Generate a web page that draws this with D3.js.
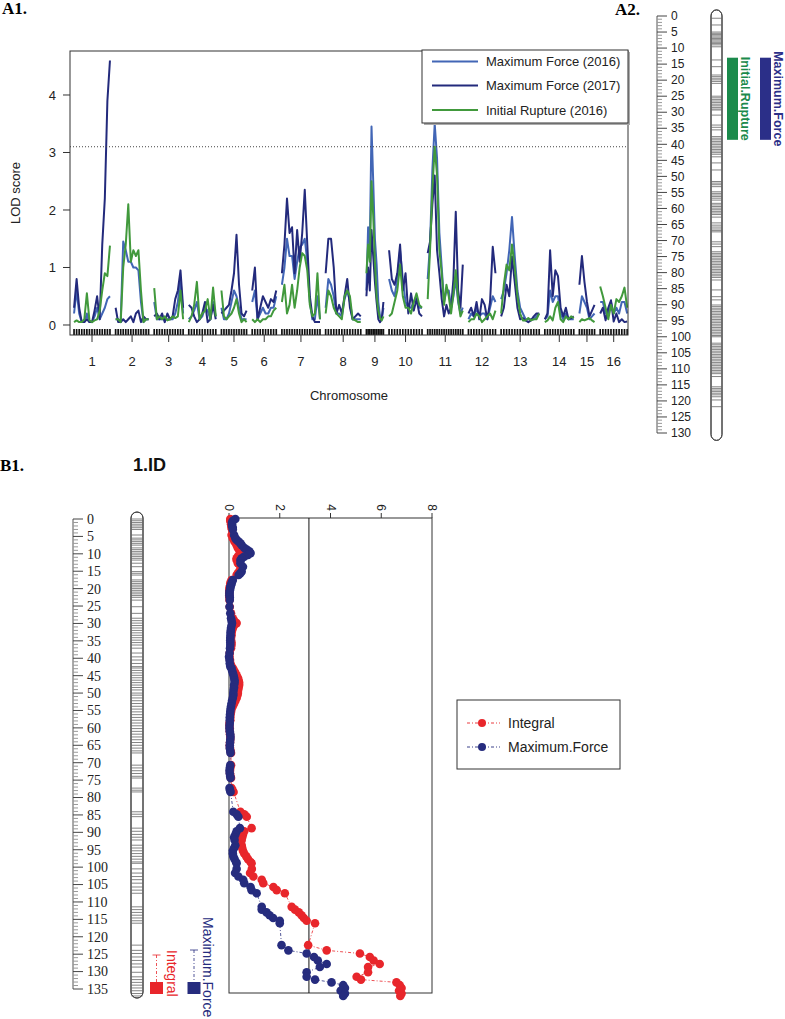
<!DOCTYPE html>
<html><head><meta charset="utf-8">
<script src="https://cdn.jsdelivr.net/npm/d3@7"></script>
<style>body{margin:0;background:#fff}svg{display:block}</style>
</head><body>
<svg id="c" width="785" height="1019"></svg>
<script>
// ---------------- DATA ----------------
const chromosomes = ["1","2","3","4","5","6","7","8","9","10","11","12","13","14","15","16"];
const chrLengths = [133,122,107,100,93,89,141,130,63,122,130,100,141,107,56,100];
// LOD profiles, evenly spaced along each chromosome (one inner array per chromosome)
const lodMaxForce2016 = [
 [0.2,0.6,0.2,0.05,0.05,0.2,0.05,0.05,0.15,0.3,0.1,0.2,0.3,0.45,0.5],
 [0.1,0.1,0.05,1.45,1.3,1.1,1.1,1.0,1.0,0.95,0.4,0.05,0.1,0.1],
 [0.4,0.1,0.1,0.1,0.1,0.1,0.1,0.1,0.2,0.4,0.8,0.2],
 [0.1,0.15,0.25,0.4,0.1,0.15,0.3,0.25,0.1,0.4,0.15],
 [0.3,0.1,0.1,0.2,0.4,0.6,0.5,0.3,0.1,0.1,0.1],
 [0.4,0.6,0.1,0.2,0.3,0.2,0.2,0.3,0.3,0.5],
 [0.7,1.0,1.5,1.2,1.2,0.8,1.1,1.35,1.4,1.5,1.1,0.4,0.1,0.1,0.5,0.1],
 [0.3,0.8,0.7,0.5,0.2,0.2,0.15,0.45,0.6,0.4,0.1,0.1,0.1,0.1],
 [0.6,1.7,1.4,3.45,2.5,1.5,1.05,0.4,0.15,0.1,0.3],
 [0.8,0.6,0.5,0.8,1.3,0.8,0.4,0.3,0.3,0.4,0.5,0.3,0.3],
 [0.8,1.4,2.7,3.5,2.9,1.6,1.0,0.4,0.6,0.6,0.3,0.5,0.8,0.4,0.2,0.3],
 [0.1,0.2,0.15,0.3,0.15,0.2,0.2,0.1,0.3,0.5,0.4],
 [0.45,0.6,0.9,1.3,1.88,1.2,0.6,0.3,0.2,0.1,0.1,0.1,0.1,0.15,0.2],
 [0.1,0.15,0.6,0.4,0.5,0.5,0.2,0.1,0.2,0.1,0.1,0.1],
 [0.2,0.5,0.4,0.3,0.1,0.15,0.2],
 [0.4,0.4,0.2,0.2,0.4,0.2,0.3,0.2,0.4,0.4,0.2]
];
const lodMaxForce2017 = [
 [0.3,0.8,0.3,0.05,0.05,0.1,0.05,0.05,0.25,0.5,0.1,1.4,2.2,3.9,4.6],
 [0.3,0.05,0.05,0.1,0.05,0.1,0.15,0.05,0.2,0.25,0.05,0.15,0.1,0.1],
 [0.15,0.2,0.1,0.2,0.05,0.2,0.1,0.15,0.45,0.6,0.95,0.3],
 [0.35,0.3,0.15,0.05,0.1,0.2,0.4,0.05,0.1,0.35,0.1],
 [0.2,0.25,0.3,0.35,0.6,0.9,1.57,0.7,0.2,0.15,0.25],
 [0.6,1.0,0.1,0.3,0.5,0.4,0.3,0.45,0.4,0.6],
 [0.9,1.4,2.2,1.6,1.7,0.9,1.65,1.1,1.6,2.35,1.4,0.5,0.15,0.05,0.05,0.05],
 [0.9,1.5,1.5,1.0,0.2,0.35,0.2,0.5,0.8,0.3,0.1,0.15,0.2,0.15],
 [0.5,1.0,0.6,1.65,1.2,0.75,0.4,0.1,0.05,0.1,0.4],
 [1.3,0.8,0.7,0.9,1.4,0.6,0.9,0.2,0.55,0.25,0.45,0.2,0.15],
 [1.25,1.45,2.1,2.6,1.3,0.9,0.45,0.15,0.35,0.2,0.3,0.8,1.97,0.6,0.3,1.05],
 [0.2,0.3,0.15,0.4,0.1,0.45,0.35,0.1,0.4,1.36,0.9],
 [0.15,0.3,0.7,0.5,1.19,0.75,0.3,0.1,0.12,0.08,0.05,0.08,0.15,0.2,0.2],
 [0.1,0.2,1.3,0.5,0.95,0.85,0.3,0.15,0.3,0.1,0.12,0.15],
 [0.7,1.2,0.75,0.4,0.15,0.25,0.35],
 [0.2,0.3,0.08,0.3,0.43,0.06,0.2,0.05,0.1,0.05,0.06]
];
const lodInitialRupture2016 = [
 [0.05,0.08,0.05,0.05,0.1,0.55,0.08,0.05,0.08,0.1,0.25,0.6,0.9,0.85,1.38],
 [0.1,0.1,0.05,1.0,1.4,2.1,1.1,1.3,1.2,1.3,0.6,0.05,0.1,0.1],
 [0.64,0.1,0.15,0.1,0.15,0.08,0.1,0.15,0.12,0.15,0.6,0.1],
 [0.05,0.15,0.35,0.75,0.1,0.2,0.25,0.45,0.1,0.65,0.15],
 [0.6,0.15,0.1,0.15,0.2,0.3,0.45,0.2,0.05,0.1,0.05],
 [0.1,0.05,0.1,0.05,0.1,0.1,0.15,0.15,0.25,0.3],
 [0.4,0.7,0.2,0.35,0.7,0.3,0.6,1.0,1.25,1.2,0.95,0.35,0.15,0.2,0.9,0.1],
 [0.2,0.6,0.5,0.3,0.2,0.15,0.1,0.5,0.6,0.5,0.1,0.08,0.05,0.05],
 [0.9,1.4,1.1,2.5,1.9,1.1,0.5,0.25,0.12,0.08,0.15],
 [0.15,0.2,0.4,0.6,1.05,0.5,0.3,0.3,0.2,0.4,0.55,0.35,0.3],
 [0.45,1.3,2.35,3.1,2.6,1.3,0.9,0.35,0.7,0.5,0.2,0.55,0.95,0.45,0.15,0.25],
 [0.05,0.1,0.1,0.2,0.15,0.05,0.1,0.15,0.2,0.1,0.25],
 [0.2,0.7,1.05,0.95,1.4,1.0,0.5,0.2,0.08,0.08,0.12,0.08,0.1,0.1,0.2],
 [0.05,0.08,0.15,0.08,0.3,0.4,0.1,0.05,0.15,0.1,0.15,0.12],
 [0.05,0.1,0.08,0.1,0.12,0.08,0.05],
 [0.67,0.5,0.3,0.1,0.35,0.2,0.45,0.4,0.5,0.65,0.3]
];
const seriesNamesA1 = ["Maximum Force (2016)","Maximum Force (2017)","Initial Rupture (2016)"];
const yTicksA1 = [0,1,2,3,4];
const lodThresholdA1 = 3.1;

// A2: chromosome map with QTL intervals
const a2RulerLabels = [0,5,10,15,20,25,30,35,40,45,50,55,60,65,70,75,80,85,90,95,100,105,110,115,120,125,130];
const a2Markers = [0.7,2.8,5.0,5.4,5.8,6.2,6.6,7.0,7.4,7.8,8.2,8.6,9.0,9.6,13.7,15.8,18.4,18.9,19.4,19.9,20.4,21.0,
 25.0,25.5,26.0,26.5,27.0,27.5,28.0,28.5,29.0,29.3,30.9,34.0,34.7,35.5,37.6,38.1,38.6,39.1,39.6,40.1,40.6,41.1,41.6,
 42.1,42.6,43.1,43.9,45.8,48.0,51.6,52.1,52.6,53.2,54.8,55.3,55.8,56.3,56.8,57.4,58.4,58.9,59.4,59.9,60.4,60.9,61.4,
 61.9,62.7,64.5,65.2,65.8,66.4,66.9,67.3,70.4,71.1,71.9,73.5,74.0,74.5,75.0,75.5,76.0,76.5,77.0,77.5,78.0,78.5,79.0,
 79.5,80.0,80.5,81.0,81.5,82.3,85.4,87.5,88.5,90.1,90.6,91.1,91.6,92.1,92.6,93.1,93.6,94.1,94.6,95.1,95.6,96.1,96.6,
 97.1,97.6,98.1,98.6,99.1,99.6,100.0,102.0,102.5,103.0,103.5,104.0,104.5,105.0,105.5,106.0,106.5,107.0,107.5,108.0,
 108.5,109.0,109.5,110.0,110.5,111.0,111.5,112.4,115.6,116.1,116.6,117.1,117.6,118.1,118.7,119.7,121.8];
const qtlTraits = ["Initial.Rupture","Maximum.Force"];
const qtlStart = [13,13];
const qtlEnd = [38.6,38.6];

// B1: chromosome 1.ID
const b1Title = "1.ID";
const b1RulerLabels = [0,5,10,15,20,25,30,35,40,45,50,55,60,65,70,75,80,85,90,95,100,105,110,115,120,125,130,135];
const b1XTicks = [0,2,4,6,8];
const b1Threshold = 3.15;
const b1SeriesNames = ["Integral","Maximum.Force"];
const b1Positions = [0,0.5,1,1.5,2,2.5,3,4.6,5.5,6,6.5,7,7.5,8.3,8.8,9.3,9.8,10.3,10.8,11.3,11.8,12.7,13.7,15.1,15.6,16.1,
 17.5,18,18.5,19,19.5,20,20.5,21,21.5,22,22.5,23.3,25.2,27.1,28.5,29.2,29.9,30.6,31.3,32,32.7,33.4,34.1,34.8,35.5,36.2,37.1,
 38.5,39.6,40.5,41.5,42.4,42.8,43.5,44.2,44.9,45.6,46.3,47,47.7,48.4,49.1,50,50.6,51.4,52.2,53,53.8,54.6,55.4,56.2,57,57.8,
 58.6,59.4,60.2,61,61.8,62.6,63.4,64.2,65,65.8,66.6,67.2,70.7,71.5,72.3,73.1,73.9,74.4,77.3,77.9,78.4,84.1,84.8,85.5,
 88.8,89.7,90.6,91.4,92.2,93.7,94.5,95.3,96.1,96.9,97.7,98.5,98.9,100.5,101.7,102.7,103.6,104.6,105.7,106.6,107.5,
 111.4,112.2,113,113.8,114.6,115.4,116.1,122.4,123.9,124.8,125.8,126.8,127.8,128.7,130.2,131.5,132.3,133.1,133.9,134.7,135.5,136.3,137];
const b1Integral = [0.05,0.05,0.08,0.08,0.1,0.1,0.12,0.1,0.15,0.2,0.22,0.28,0.3,0.35,0.4,0.45,0.5,0.4,0.35,0.3,0.3,0.35,0.45,0.4,0.35,0.3,
 0.1,0.08,0.05,0.05,0.03,0.02,0.02,0.01,0.01,0.01,0.02,0.02,0.03,0.08,0.15,0.2,0.3,0.2,0.15,0.12,0.1,0.1,0.08,0.08,0.1,0.1,0.08,
 0.03,0.02,0.04,0.06,0.1,0.15,0.2,0.25,0.3,0.35,0.38,0.4,0.4,0.38,0.36,0.35,0.33,0.3,0.25,0.2,0.15,0.1,0.08,0.06,0.05,0.05,
 0.02,0.02,0.03,0.03,0.04,0.05,0.05,0.04,0.03,0.04,0.06,0.08,0.08,0.05,0.04,0.04,0.06,0.08,0.1,0.14,0.18,0.45,0.6,0.7,
 0.89,0.6,0.55,0.52,0.5,0.5,0.52,0.55,0.6,0.68,0.75,0.85,0.89,0.9,0.83,0.96,1.29,1.35,1.75,1.88,2.2,
 2.47,2.6,2.75,2.86,2.95,3.06,3.39,3.12,3.85,5.16,5.55,5.7,5.94,5.48,5.48,5.03,5.2,6.6,6.73,6.8,6.7,6.8,6.75];
const b1MaxForce = [0.25,0.15,0.12,0.12,0.12,0.15,0.15,0.2,0.25,0.3,0.38,0.45,0.5,0.6,0.7,0.8,0.85,0.75,0.6,0.5,0.45,0.45,0.55,0.5,0.45,0.38,
 0.15,0.12,0.1,0.08,0.05,0.05,0.03,0.02,0.02,0.02,0.03,0.03,0.02,0.05,0.08,0.1,0.12,0.1,0.08,0.07,0.06,0.06,0.05,0.05,0.05,0.05,0.04,
 0.02,0.0,0.02,0.03,0.05,0.1,0.12,0.15,0.18,0.2,0.22,0.22,0.2,0.2,0.18,0.17,0.17,0.15,0.12,0.1,0.08,0.06,0.05,0.04,0.03,0.03,
 0.03,0.02,0.02,0.03,0.05,0.06,0.05,0.04,0.03,0.03,0.05,0.06,0.05,0.03,0.02,0.03,0.05,0.06,0.02,0.04,0.06,0.17,0.3,0.37,
 0.43,0.3,0.25,0.2,0.22,0.25,0.2,0.15,0.15,0.17,0.22,0.28,0.3,0.3,0.24,0.37,0.56,0.6,0.85,0.89,1.09,
 1.29,1.29,1.48,1.6,1.74,2.0,2.0,2.07,2.34,3.06,3.35,3.5,3.85,3.58,3.06,3.06,3.39,4.04,4.5,4.57,4.4,4.57,4.5];

// ---------------- DRAWING ----------------
const SANS = "Arial, 'Liberation Sans', Helvetica, sans-serif";
const SERIF = "'Liberation Serif', 'Times New Roman', Times, serif";
const svg = d3.select("#c");

// panel labels
svg.append("text").attr("x",2).attr("y",14).text("A1.").attr("font-family",SERIF).attr("font-weight","bold").attr("font-size",17);
svg.append("text").attr("x",615).attr("y",15).text("A2.").attr("font-family",SERIF).attr("font-weight","bold").attr("font-size",17);
svg.append("text").attr("x",0).attr("y",471).text("B1.").attr("font-family",SERIF).attr("font-weight","bold").attr("font-size",17);

// ===== A1 genome scan =====
const chrGap = 21;
const chrOffset = [];
{ let acc = 0; chrLengths.forEach(L => { chrOffset.push(acc); acc += L + chrGap; }); }
const xA = d3.scaleLinear().domain([-15, 2052]).range([70, 628]);
const yA = d3.scaleLinear().domain([-0.174, 4.765]).range([335, 51]);
const colorsA1 = ["#4266b6", "#232a7c", "#41993c"];
const dataA1 = [lodMaxForce2016, lodMaxForce2017, lodInitialRupture2016];
const lineA = d3.line().x(d => xA(d[0])).y(d => yA(d[1]));
const gA = svg.append("g");
dataA1.forEach((ser, si) => {
  ser.forEach((vals, ci) => {
    const n = vals.length;
    const pts = vals.map((v, i) => [chrOffset[ci] + chrLengths[ci] * i / (n - 1), v]);
    gA.append("path").attr("d", lineA(pts)).attr("fill", "none")
      .attr("stroke", colorsA1[si]).attr("stroke-width", 2).attr("stroke-linejoin", "round");
  });
});
// rug of marker positions
const gRug = svg.append("g");
lodMaxForce2017.forEach((vals, ci) => {
  const n = vals.length;
  vals.forEach((v, i) => {
    const x = xA(chrOffset[ci] + chrLengths[ci] * i / (n - 1));
    gRug.append("line").attr("x1", x).attr("x2", x).attr("y1", 329).attr("y2", 335)
      .attr("stroke", "#111").attr("stroke-width", 1.7);
  });
});
// threshold
svg.append("line").attr("x1", 70).attr("x2", 628).attr("y1", yA(lodThresholdA1)).attr("y2", yA(lodThresholdA1))
  .attr("stroke", "#444").attr("stroke-width", 1).attr("stroke-dasharray", "1,2");
// frame
svg.append("rect").attr("x", 70).attr("y", 51).attr("width", 558).attr("height", 284)
  .attr("fill", "none").attr("stroke", "#333").attr("stroke-width", 1);
// y axis
const gy = svg.append("g");
yTicksA1.forEach(t => {
  gy.append("line").attr("x1", 63).attr("x2", 70).attr("y1", yA(t)).attr("y2", yA(t)).attr("stroke", "#333");
  gy.append("text").attr("x", 56).attr("y", yA(t)).attr("dy", "0.35em").attr("text-anchor", "end")
    .attr("font-family", SANS).attr("font-size", 13).attr("fill", "#222").text(t);
});
svg.append("text").attr("transform", "translate(20,193) rotate(-90)").attr("text-anchor", "middle")
  .attr("font-family", SANS).attr("font-size", 13).attr("fill", "#222").text("LOD score");
// x axis
chromosomes.forEach((c, ci) => {
  const x = xA(chrOffset[ci] + chrLengths[ci] / 2);
  svg.append("line").attr("x1", x).attr("x2", x).attr("y1", 335).attr("y2", 342).attr("stroke", "#333");
  svg.append("text").attr("x", x).attr("y", 366).attr("text-anchor", "middle")
    .attr("font-family", SANS).attr("font-size", 13).attr("fill", "#222").text(c);
});
svg.append("text").attr("x", 349).attr("y", 400).attr("text-anchor", "middle")
  .attr("font-family", SANS).attr("font-size", 13).attr("fill", "#222").text("Chromosome");
// legend
svg.append("rect").attr("x", 424).attr("y", 52).attr("width", 206).attr("height", 73).attr("fill", "#aaa");
svg.append("rect").attr("x", 422).attr("y", 50).attr("width", 206).attr("height", 73)
  .attr("fill", "#fff").attr("stroke", "#333").attr("stroke-width", 1);
seriesNamesA1.forEach((nm, i) => {
  const y = [61.5, 85.5, 110][i];
  svg.append("line").attr("x1", 432).attr("x2", 478).attr("y1", y).attr("y2", y).attr("stroke", colorsA1[i]).attr("stroke-width", 1.8);
  svg.append("text").attr("x", 486).attr("y", y).attr("dy", "0.35em").attr("font-family", SANS)
    .attr("font-size", 13).attr("fill", "#222").text(nm);
});

// ===== ruler + chromosome helper =====
function drawRuler(yS, maxCM, xSpine, labels, font, fsize) {
  const g = svg.append("g");
  g.append("line").attr("x1", xSpine).attr("x2", xSpine).attr("y1", yS(0)).attr("y2", yS(maxCM)).attr("stroke", "#555").attr("stroke-width", 1);
  d3.range(0, maxCM + 1).forEach(c => {
    const major = labels.includes(c);
    g.append("line").attr("x1", xSpine).attr("x2", xSpine + (major ? 10 : 5)).attr("y1", yS(c)).attr("y2", yS(c))
      .attr("stroke", major ? "#444" : "#999").attr("stroke-width", 1);
  });
  labels.forEach(c => {
    g.append("text").attr("x", xSpine + 14).attr("y", yS(c)).attr("dy", "0.35em").attr("font-family", font)
      .attr("font-size", fsize).attr("fill", "#222").text(c);
  });
}
function drawChrom(yS, x0, w, topCM, botCM, markers) {
  const g = svg.append("g");
  const y0 = yS(topCM), y1 = yS(botCM);
  g.append("rect").attr("x", x0).attr("y", y0).attr("width", w).attr("height", y1 - y0)
    .attr("rx", w / 2).attr("ry", 6).attr("fill", "#fff").attr("stroke", "#444").attr("stroke-width", 1);
  markers.forEach(m => {
    g.append("line").attr("x1", x0 + 0.5).attr("x2", x0 + w - 0.5).attr("y1", yS(m)).attr("y2", yS(m))
      .attr("stroke", "#777").attr("stroke-width", 0.9);
  });
  g.append("rect").attr("x", x0).attr("y", y0).attr("width", w).attr("height", y1 - y0)
    .attr("rx", w / 2).attr("ry", 6).attr("fill", "none").attr("stroke", "#444").attr("stroke-width", 1);
}

// ===== A2 =====
const yA2 = d3.scaleLinear().domain([0, 130]).range([16, 433]);
drawRuler(yA2, 130, 657, a2RulerLabels, SANS, 12);
drawChrom(yA2, 711, 11, -1.9, 132.3, a2Markers);
const qtlColors = ["#1b8a4c", "#2b2f88"];
const qtlBarX = [727, 760];
qtlTraits.forEach((t, i) => {
  svg.append("rect").attr("x", qtlBarX[i]).attr("y", yA2(qtlStart[i])).attr("width", 11)
    .attr("height", yA2(qtlEnd[i]) - yA2(qtlStart[i])).attr("fill", qtlColors[i]);
  const cy = (yA2(qtlStart[i]) + yA2(qtlEnd[i])) / 2;
  svg.append("text").attr("transform", `translate(${qtlBarX[i] + 14},${cy}) rotate(90)`).attr("text-anchor", "middle")
    .attr("font-family", SANS).attr("font-weight", "bold").attr("font-size", 12.5).attr("fill", qtlColors[i]).text(t);
});

// ===== B1 =====
svg.append("text").attr("x", 133).attr("y", 471).attr("font-family", SANS).attr("font-weight", "bold")
  .attr("font-size", 18).attr("fill", "#111").text(b1Title);
const yB = d3.scaleLinear().domain([0, 135]).range([519, 989]);
drawRuler(yB, 135, 73, b1RulerLabels, SERIF, 14);
drawChrom(yB, 131, 12, -2, 137.6, b1Positions);

const xB = d3.scaleLinear().domain([0, 8]).range([229, 432]);
svg.append("rect").attr("x", 229).attr("y", 518).attr("width", 203).attr("height", 475)
  .attr("fill", "none").attr("stroke", "#333").attr("stroke-width", 1);
b1XTicks.forEach(t => {
  svg.append("line").attr("x1", xB(t)).attr("x2", xB(t)).attr("y1", 513).attr("y2", 518).attr("stroke", "#333");
  svg.append("text").attr("transform", `translate(${xB(t)},511) rotate(90)`).attr("text-anchor", "end")
    .attr("dominant-baseline", "central").attr("font-family", SANS).attr("font-size", 12).attr("fill", "#222").text(t);
});
svg.append("line").attr("x1", xB(b1Threshold)).attr("x2", xB(b1Threshold)).attr("y1", 518).attr("y2", 993)
  .attr("stroke", "#111").attr("stroke-width", 1);
const b1Colors = ["#e8262b", "#262c7e"];
[b1Integral, b1MaxForce].forEach((vals, si) => {
  const pts = vals.map((v, i) => [v, b1Positions[i]]);
  svg.append("path").attr("d", d3.line().x(d => xB(d[0])).y(d => yB(d[1]))(pts)).attr("fill", "none")
    .attr("stroke", b1Colors[si]).attr("stroke-width", 0.8).attr("stroke-dasharray", "3,2,1,2");
  svg.append("g").selectAll("circle").data(pts).join("circle").attr("cx", d => xB(d[0])).attr("cy", d => yB(d[1]))
    .attr("r", 4.3).attr("fill", b1Colors[si]);
});
// B1 legend box
svg.append("rect").attr("x", 457).attr("y", 700).attr("width", 163).attr("height", 69)
  .attr("fill", "#fff").attr("stroke", "#333").attr("stroke-width", 1);
b1SeriesNames.forEach((nm, i) => {
  const y = [723, 747][i];
  svg.append("line").attr("x1", 467).attr("x2", 500).attr("y1", y).attr("y2", y).attr("stroke", b1Colors[i])
    .attr("stroke-width", 0.9).attr("stroke-dasharray", "3,2,1,2");
  svg.append("circle").attr("cx", 482).attr("cy", y).attr("r", 4).attr("fill", b1Colors[i]);
  svg.append("text").attr("x", 508).attr("y", y).attr("dy", "0.35em").attr("font-family", SANS).attr("font-size", 14)
    .attr("fill", "#222").text(nm);
});
// B1 vertical trait legend beside chromosome
const vLegX = [156.5, 194];
const vLegTop = [955, 950];
b1SeriesNames.forEach((nm, i) => {
  const x = vLegX[i];
  svg.append("line").attr("x1", x).attr("x2", x).attr("y1", vLegTop[i]).attr("y2", 982).attr("stroke", b1Colors[i])
    .attr("stroke-width", 0.8).attr("stroke-dasharray", "3,2,1,2");
  svg.append("line").attr("x1", x - 4).attr("x2", x + 4).attr("y1", vLegTop[i]).attr("y2", vLegTop[i]).attr("stroke", b1Colors[i]).attr("stroke-width", 0.8);
  svg.append("rect").attr("x", x - 6.5).attr("y", 982).attr("width", 13).attr("height", 12).attr("fill", b1Colors[i]);
});
svg.append("text").attr("transform", "translate(167,950) rotate(90)").attr("font-family", SANS).attr("font-size", 14)
  .attr("fill", b1Colors[0]).text(b1SeriesNames[0]);
svg.append("text").attr("transform", "translate(203,917) rotate(90)").attr("font-family", SANS).attr("font-size", 14)
  .attr("fill", b1Colors[1]).text(b1SeriesNames[1]);
</script>
</body></html>
